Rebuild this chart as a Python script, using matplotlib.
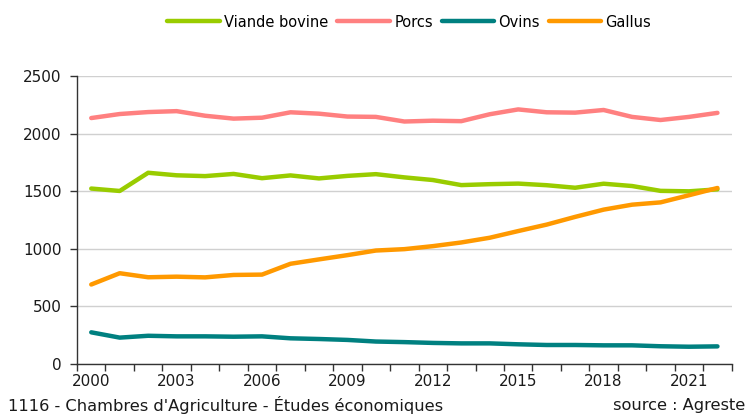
import matplotlib.pyplot as plt
import numpy as np

# Production series, 2000-2022 (thousand tonnes)
years = list(range(2000, 2023))
viande_bovine = [1523, 1502, 1660, 1638, 1631, 1650, 1613, 1637, 1611, 1633, 1648,
                 1620, 1597, 1553, 1561, 1566, 1552, 1530, 1565, 1545, 1503, 1499, 1516]
porcs = [2135, 2170, 2187, 2195, 2155, 2130, 2138, 2185, 2173, 2148, 2145,
         2105, 2112, 2108, 2168, 2210, 2185, 2182, 2205, 2145, 2118, 2145, 2180]
ovins = [275, 229, 245, 240, 240, 237, 240, 223, 217, 209, 195,
         190, 183, 179, 179, 171, 165, 165, 162, 162, 154, 150, 153]
gallus = [690, 788, 753, 758, 752, 773, 776, 870, 908, 945, 985,
          997, 1023, 1055, 1096, 1154, 1210, 1277, 1340, 1383, 1403, 1465, 1528]

series_names = ["Viande bovine", "Porcs", "Ovins", "Gallus"]
series_colors = ["#99CC00", "#FF8080", "#008080", "#FF9900"]

plt.rcParams['font.family'] = ['DejaVu Sans']

fig = plt.figure(figsize=(7.47, 4.16), dpi=100)
ax = fig.add_axes([0.1031, 0.125, 0.8764, 0.6923])

x = np.arange(len(years))
for name, vals, col in zip(series_names, [viande_bovine, porcs, ovins, gallus], series_colors):
    ax.plot(x, vals, color=col, lw=3.2, solid_capstyle='round', solid_joinstyle='round', label=name)

ax.set_xlim(-0.5, len(years) - 0.5)
ax.set_ylim(0, 2500)
ax.set_yticks(range(0, 2501, 500))
ax.grid(axis='y', color='#d0d0d0', lw=1)
ax.set_axisbelow(True)

# labels every 3 years, tick marks on category boundaries
ax.set_xticks(x[::3])
ax.set_xticklabels([str(y) for y in years[::3]])
ax.set_xticks(np.arange(-0.5, len(years)), minor=True)
ax.tick_params(axis='x', which='major', length=0, pad=7, labelsize=11, colors='#1a1a1a')
ax.tick_params(axis='x', which='minor', length=5, width=1, color='#333333')
ax.tick_params(axis='y', length=5, width=1, color='#333333', labelsize=11, labelcolor='#1a1a1a', pad=6)

for s in ['top', 'right']:
    ax.spines[s].set_visible(False)
for s in ['left', 'bottom']:
    ax.spines[s].set_color('#333333')
    ax.spines[s].set_linewidth(1)

fig.legend(loc='center', bbox_to_anchor=(0.548, 0.947), ncol=4, frameon=False,
           fontsize=10.5, handlelength=3.6, handletextpad=0.3, columnspacing=0.6)

fig.text(8 / 747, 5 / 416, "1116 - Chambres d'Agriculture - Études économiques", fontsize=11.7,
         color='#1a1a1a', ha='left', va='baseline')
fig.text(745 / 747, 6 / 416, "source : Agreste", fontsize=11.7, color='#1a1a1a',
         ha='right', va='baseline')

fig.savefig('out.png', dpi=100)
